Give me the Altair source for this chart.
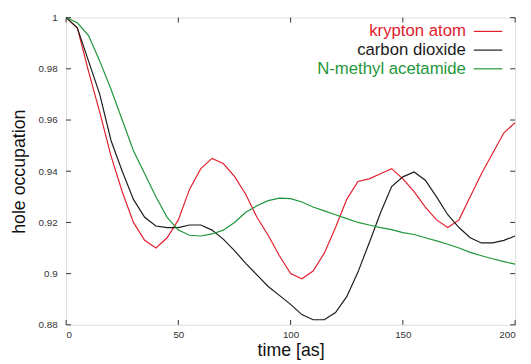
import altair as alt
import pandas as pd

names = ["krypton atom", "carbon dioxide", "N-methyl acetamide"]
colors = ["#e2202d", "#1c1c1c", "#1f963a"]

t = list(range(0, 201, 5))

krypton = [1.000, 0.996, 0.979, 0.963, 0.946, 0.932, 0.920, 0.913, 0.910, 0.914,
           0.921, 0.933, 0.941, 0.945, 0.943, 0.938, 0.931, 0.922, 0.915, 0.907,
           0.900, 0.898, 0.901, 0.908, 0.918, 0.929, 0.936, 0.937, 0.939, 0.941,
           0.937, 0.932, 0.926, 0.921, 0.918, 0.921, 0.930, 0.939, 0.947, 0.955,
           0.959]
carbon = [1.000, 0.996, 0.983, 0.970, 0.952, 0.940, 0.929, 0.922, 0.9186, 0.918,
          0.918, 0.919, 0.919, 0.917, 0.9135, 0.909, 0.904, 0.8995, 0.895, 0.8915,
          0.888, 0.884, 0.882, 0.882, 0.8848, 0.891, 0.9006, 0.912, 0.9237, 0.934,
          0.9378, 0.9397, 0.9365, 0.930, 0.923, 0.918, 0.914, 0.912, 0.912, 0.913,
          0.9147]
nma = [1.000, 0.998, 0.993, 0.983, 0.972, 0.960, 0.948, 0.939, 0.930, 0.922,
       0.917, 0.915, 0.9147, 0.9155, 0.917, 0.920, 0.924, 0.9265, 0.9285, 0.9295,
       0.9293, 0.928, 0.926, 0.9245, 0.923, 0.9215, 0.920, 0.919, 0.918, 0.9172,
       0.916, 0.9153, 0.914, 0.9128, 0.9115, 0.910, 0.9083, 0.907, 0.9058, 0.9047,
       0.9037]

x_ticks = [0, 50, 100, 150, 200]
y_ticks = [0.88, 0.9, 0.92, 0.94, 0.96, 0.98, 1.0]

rows = []
for n, vals in zip(names, [krypton, carbon, nma]):
    for ti, v in zip(t, vals):
        rows.append({"t": ti, "v": v, "series": n})
df = pd.DataFrame(rows)

W, H = 456, 312
FONT = "Liberation Sans"
xs = alt.Scale(domain=[0, 200], nice=False, zero=False)
ys = alt.Scale(domain=[0.88, 1.0], nice=False, zero=False)
color = alt.Color("series:N", scale=alt.Scale(domain=names, range=colors), legend=None)

lines = alt.Chart(df).mark_line(strokeWidth=1.2, clip=True).encode(
    x=alt.X("t:Q", scale=xs, title="time [as]",
            axis=alt.Axis(values=x_ticks, format="d", tickSize=0, domain=False, grid=False,
                          labelFont=FONT, labelFontSize=10, labelColor="#333333",
                          labelPadding=5, titleFont=FONT, titleFontSize=18,
                          titleFontWeight="normal", titleColor="#111111", titlePadding=2)),
    y=alt.Y("v:Q", scale=ys, title="hole occupation",
            axis=alt.Axis(values=y_ticks, format="~g", tickSize=0, domain=False, grid=False,
                          labelFont=FONT, labelFontSize=10, labelColor="#333333",
                          labelPadding=9, titleFont=FONT, titleFontSize=18,
                          titleFontWeight="normal", titleColor="#111111", titlePadding=10)),
    color=color,
)

xt = pd.DataFrame({"t": x_ticks})
yt = pd.DataFrame({"v": y_ticks})
tick_color = "#333333"
bottom_ticks = alt.Chart(xt).mark_rule(color=tick_color, strokeWidth=1).encode(
    x=alt.X("t:Q", scale=xs), y=alt.value(H), y2=alt.value(H - 5))
top_ticks = alt.Chart(xt).mark_rule(color=tick_color, strokeWidth=1).encode(
    x=alt.X("t:Q", scale=xs), y=alt.value(0), y2=alt.value(5))
left_ticks = alt.Chart(yt).mark_rule(color=tick_color, strokeWidth=1).encode(
    y=alt.Y("v:Q", scale=ys), x=alt.value(0), x2=alt.value(5))
right_ticks = alt.Chart(yt).mark_rule(color=tick_color, strokeWidth=1).encode(
    y=alt.Y("v:Q", scale=ys), x=alt.value(W), x2=alt.value(W - 5))

main = alt.layer(lines, bottom_ticks, top_ticks, left_ticks, right_ticks)

leg = pd.DataFrame({"series": names, "row": [0, 1, 2]})
leg_y = alt.Y("row:Q", scale=alt.Scale(domain=[0, 2], range=[14, 52]), axis=None)
leg_text = alt.Chart(leg).mark_text(align="right", baseline="middle", font=FONT,
                                    fontSize=17).encode(
    x=alt.value(406), y=leg_y, text="series:N", color=color)
leg_rule = alt.Chart(leg).mark_rule(strokeWidth=1.2).encode(
    x=alt.value(414), x2=alt.value(443), y=leg_y, color=color)
legend = alt.layer(leg_text, leg_rule)

chart = alt.layer(main, legend).resolve_scale(y="independent").properties(
    width=W, height=H,
    padding={"left": 59, "top": 7, "right": 8, "bottom": 37},
    autosize=alt.AutoSizeParams(type="none"),
).configure_view(stroke="#222222", strokeWidth=1).configure(background="white")

chart.save("out.html", embed_options={"renderer": "svg", "actions": False})
